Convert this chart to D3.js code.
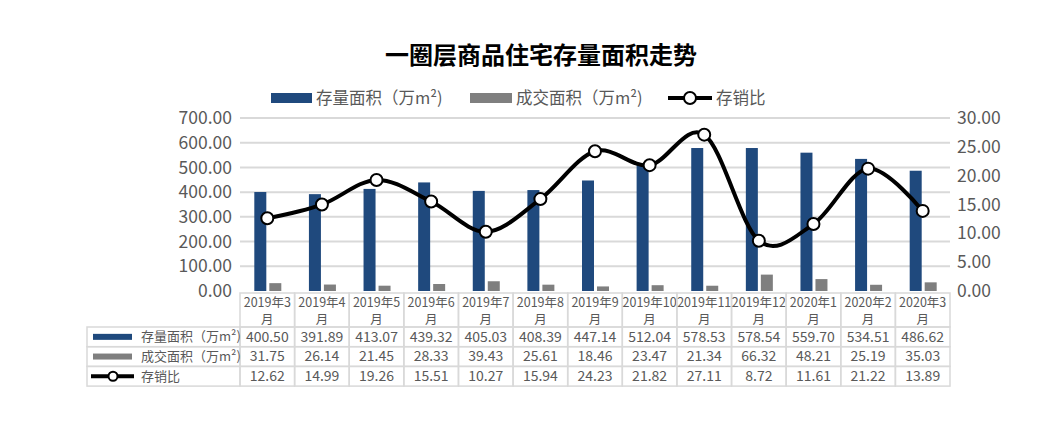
<!DOCTYPE html>
<html><head><meta charset="utf-8">
<script src="https://cdn.jsdelivr.net/npm/d3@7"></script>
<style>
body{margin:0;background:#fff;}
text{font-family:"Microsoft YaHei","Noto Sans CJK SC","Noto Sans",sans-serif;}
</style></head>
<body>
<svg id="chart" width="1061" height="445"></svg>
<script>
const categories = ["2019年3月","2019年4月","2019年5月","2019年6月","2019年7月","2019年8月","2019年9月","2019年10月","2019年11月","2019年12月","2020年1月","2020年2月","2020年3月"];
const stock = [400.50,391.89,413.07,439.32,405.03,408.39,447.14,512.04,578.53,578.54,559.70,534.51,486.62];
const sales = [31.75,26.14,21.45,28.33,39.43,25.61,18.46,23.47,21.34,66.32,48.21,25.19,35.03];
const ratio = [12.62,14.99,19.26,15.51,10.27,15.94,24.23,21.82,27.11,8.72,11.61,21.22,13.89];
const leftTicks = [0,100,200,300,400,500,600,700];
const rightTicks = [0,5,10,15,20,25,30];
const seriesNames = ["存量面积（万m²)","成交面积（万m²)","存销比"];
const title = "一圈层商品住宅存量面积走势";

const C_BLUE = "#1f497d", C_GRAY = "#7f7f7f", C_TEXT = "#595959", C_GRID = "#d9d9d9";
const svg = d3.select("#chart");

const x = d3.scaleBand().domain(categories).range([240, 950]);
const yL = d3.scaleLinear().domain([0,700]).range([291,118]);
const yR = d3.scaleLinear().domain([0,30]).range([291,118]);

// title
svg.append("text").attr("x",541).attr("y",64).attr("text-anchor","middle")
  .attr("font-size",24).attr("font-weight",700).attr("fill","#000").text(title);

// gridlines
svg.append("g").selectAll("line").data(leftTicks.slice(1)).join("line")
  .attr("x1",240).attr("x2",950).attr("y1",d=>yL(d)).attr("y2",d=>yL(d))
  .attr("stroke",C_GRID).attr("stroke-width",2);

// left axis
const gL = svg.append("g").attr("transform","translate(232,0)")
  .call(d3.axisLeft(yL).tickValues(leftTicks).tickFormat(d3.format(".2f")).tickSize(0).tickPadding(0));
gL.select(".domain").remove();
gL.selectAll("text").attr("font-size",17.5).attr("fill",C_TEXT).attr("font-family",null);

// right axis
const gR = svg.append("g").attr("transform","translate(957,0)")
  .call(d3.axisRight(yR).tickValues(rightTicks).tickFormat(d3.format(".2f")).tickSize(0).tickPadding(0));
gR.select(".domain").remove();
gR.selectAll("text").attr("font-size",17.5).attr("fill",C_TEXT).attr("font-family",null);

// bars
const bw = 12, gap = 3;
svg.append("g").selectAll("rect").data(stock).join("rect")
  .attr("x",(d,i)=>x(categories[i])+x.bandwidth()/2-bw-gap/2+0.5)
  .attr("y",d=>yL(d)).attr("width",bw).attr("height",d=>yL(0)-yL(d)).attr("fill",C_BLUE);
svg.append("g").selectAll("rect").data(sales).join("rect")
  .attr("x",(d,i)=>x(categories[i])+x.bandwidth()/2+gap/2+0.5)
  .attr("y",d=>yL(d)).attr("width",bw).attr("height",d=>yL(0)-yL(d)).attr("fill",C_GRAY);

// line
const cx = i => x(categories[i]) + x.bandwidth()/2;
const line = d3.line().x((d,i)=>cx(i)).y(d=>yR(d)).curve(d3.curveCardinal.tension(0));
svg.append("path").datum(ratio).attr("d",line).attr("fill","none")
  .attr("stroke","#000").attr("stroke-width",4);
svg.append("g").selectAll("circle").data(ratio).join("circle")
  .attr("cx",(d,i)=>cx(i)).attr("cy",d=>yR(d)).attr("r",6)
  .attr("fill","#fff").attr("stroke","#000").attr("stroke-width",2);

// legend
const lg = svg.append("g");
const ly = 98;
lg.append("rect").attr("x",271).attr("y",ly-5).attr("width",41).attr("height",10).attr("fill",C_BLUE);
lg.append("text").attr("x",316).attr("y",ly).attr("dy","0.35em").attr("font-size",16.5).attr("fill",C_TEXT).text(seriesNames[0]);
lg.append("rect").attr("x",470).attr("y",ly-5).attr("width",42).attr("height",10).attr("fill",C_GRAY);
lg.append("text").attr("x",516).attr("y",ly).attr("dy","0.35em").attr("font-size",16.5).attr("fill",C_TEXT).text(seriesNames[1]);
lg.append("line").attr("x1",668).attr("x2",712).attr("y1",ly).attr("y2",ly).attr("stroke","#000").attr("stroke-width",4);
lg.append("circle").attr("cx",690).attr("cy",ly).attr("r",6).attr("fill","#fff").attr("stroke","#000").attr("stroke-width",2);
lg.append("text").attr("x",716).attr("y",ly).attr("dy","0.35em").attr("font-size",16.5).attr("fill",C_TEXT).text(seriesNames[2]);

// data table
const tb = svg.append("g");
const hTop = 293, hBot = 327, rowH = 19.7;
const rowsY = [hBot, hBot+rowH, hBot+2*rowH, hBot+3*rowH];
const tLeft = 87;
const FS = 13;
// header cells
categories.forEach((c,i)=>{
  tb.append("rect").attr("x",x(c)).attr("y",hTop).attr("width",x.bandwidth()).attr("height",hBot-hTop)
    .attr("fill","none").attr("stroke",C_GRID).attr("stroke-width",1.5);
  tb.append("text").attr("x",cx(i)).attr("y",306.5).attr("text-anchor","middle")
    .attr("font-size",12.5).attr("fill",C_TEXT).text(c.slice(0,-1));
  tb.append("text").attr("x",cx(i)).attr("y",323.5).attr("text-anchor","middle")
    .attr("font-size",12.5).attr("fill",C_TEXT).text(c.slice(-1));
});
const rowsData = [stock, sales, ratio];
rowsData.forEach((arr,r)=>{
  const y0 = rowsY[r], y1 = rowsY[r+1], ym = (y0+y1)/2;
  tb.append("rect").attr("x",tLeft).attr("y",y0).attr("width",240-tLeft).attr("height",y1-y0)
    .attr("fill","none").attr("stroke",C_GRID).attr("stroke-width",1.5);
  arr.forEach((v,i)=>{
    tb.append("rect").attr("x",x(categories[i])).attr("y",y0).attr("width",x.bandwidth()).attr("height",y1-y0)
      .attr("fill","none").attr("stroke",C_GRID).attr("stroke-width",1.5);
    tb.append("text").attr("x",cx(i)).attr("y",ym).attr("dy","0.35em").attr("text-anchor","middle")
      .attr("font-size",14).attr("fill",C_TEXT).text(d3.format(".2f")(v));
  });
  tb.append("text").attr("x",141).attr("y",ym).attr("dy","0.35em").attr("font-size",FS).attr("fill",C_TEXT).text(seriesNames[r]);
  if (r===0) tb.append("rect").attr("x",93).attr("y",ym-3).attr("width",39).attr("height",6).attr("fill",C_BLUE);
  if (r===1) tb.append("rect").attr("x",93).attr("y",ym-3).attr("width",39).attr("height",6).attr("fill",C_GRAY);
  if (r===2) {
    tb.append("line").attr("x1",91).attr("x2",134).attr("y1",ym).attr("y2",ym).attr("stroke","#000").attr("stroke-width",4);
    tb.append("circle").attr("cx",113).attr("cy",ym).attr("r",4.5).attr("fill","#fff").attr("stroke","#000").attr("stroke-width",2);
  }
});
</script>
</body></html>
